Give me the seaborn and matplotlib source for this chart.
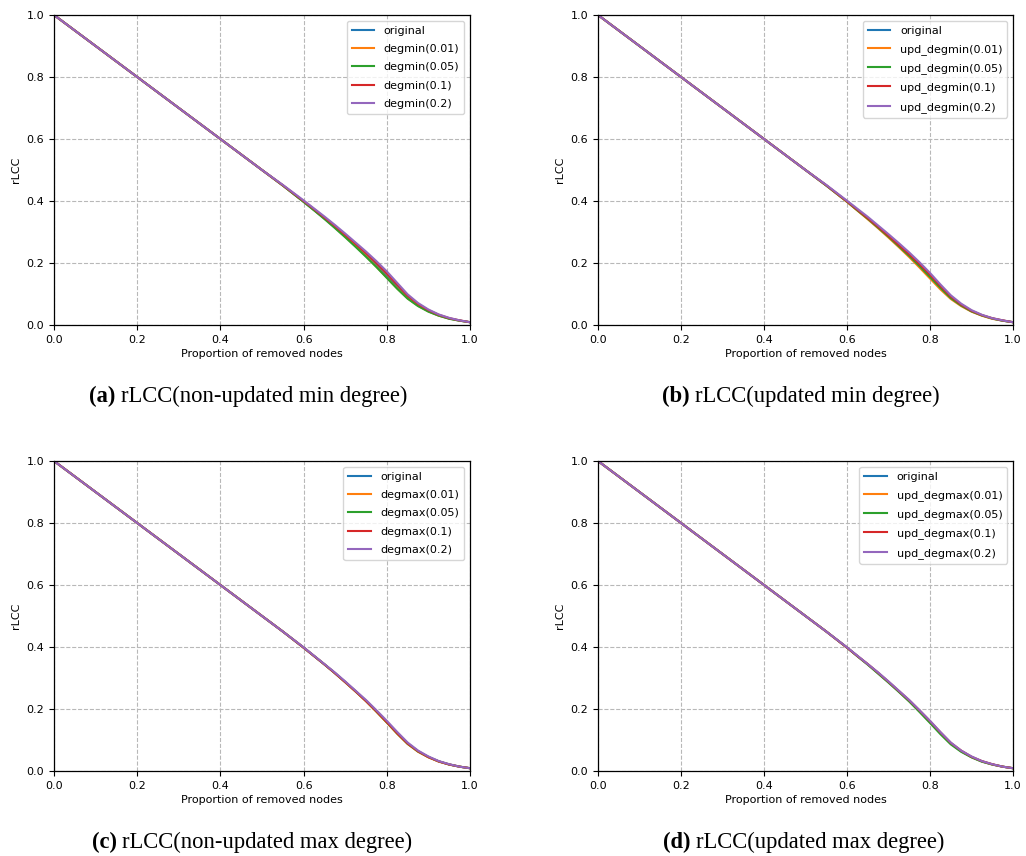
import numpy as np
import pandas as pd
import matplotlib
matplotlib.use("Agg")
import matplotlib.pyplot as plt
import seaborn as sns

# ---------------- data ----------------
x_vals = [0.0, 0.1, 0.2, 0.3, 0.4, 0.5, 0.55, 0.6, 0.625, 0.65, 0.675, 0.7, 0.725,
          0.75, 0.775, 0.8, 0.825, 0.85, 0.875, 0.9, 0.925, 0.95, 0.975, 1.0]

original = [1.0, 0.9, 0.8, 0.7, 0.6, 0.5, 0.45, 0.398, 0.371, 0.344, 0.316, 0.287, 0.257,
            0.226, 0.193, 0.158, 0.122, 0.089, 0.064, 0.045, 0.031, 0.021, 0.014, 0.009]

# panel (a): non-updated min degree
a_001 = [1.0, 0.9, 0.8, 0.7, 0.6, 0.5, 0.45, 0.398, 0.371, 0.344, 0.315, 0.285, 0.254,
         0.222, 0.188, 0.153, 0.118, 0.086, 0.062, 0.044, 0.030, 0.021, 0.014, 0.009]
a_005 = [1.0, 0.9, 0.8, 0.7, 0.6, 0.5, 0.45, 0.397, 0.370, 0.342, 0.313, 0.283, 0.252,
         0.220, 0.187, 0.152, 0.117, 0.085, 0.061, 0.043, 0.030, 0.020, 0.014, 0.009]
a_01 = [1.0, 0.9, 0.8, 0.7, 0.6, 0.5, 0.451, 0.400, 0.374, 0.347, 0.320, 0.291, 0.262,
        0.232, 0.200, 0.166, 0.130, 0.095, 0.068, 0.048, 0.033, 0.022, 0.015, 0.009]
a_02 = [1.0, 0.9, 0.8, 0.7, 0.6, 0.5, 0.452, 0.402, 0.376, 0.350, 0.323, 0.295, 0.266,
        0.237, 0.206, 0.173, 0.136, 0.099, 0.071, 0.050, 0.034, 0.023, 0.015, 0.009]

# panel (b): updated min degree
b_001 = [1.0, 0.9, 0.8, 0.7, 0.6, 0.5, 0.45, 0.397, 0.369, 0.341, 0.312, 0.282, 0.251,
         0.219, 0.185, 0.150, 0.115, 0.084, 0.061, 0.043, 0.030, 0.020, 0.014, 0.009]
b_005 = [1.0, 0.9, 0.8, 0.7, 0.6, 0.5, 0.45, 0.398, 0.370, 0.343, 0.314, 0.285, 0.254,
         0.223, 0.190, 0.155, 0.120, 0.087, 0.063, 0.044, 0.031, 0.021, 0.014, 0.009]
b_01 = [1.0, 0.9, 0.8, 0.7, 0.6, 0.5, 0.451, 0.399, 0.372, 0.345, 0.317, 0.288, 0.258,
        0.228, 0.196, 0.162, 0.126, 0.092, 0.066, 0.046, 0.032, 0.022, 0.015, 0.009]
b_02 = [1.0, 0.9, 0.8, 0.7, 0.6, 0.5, 0.452, 0.401, 0.375, 0.349, 0.321, 0.293, 0.264,
        0.234, 0.202, 0.168, 0.131, 0.096, 0.069, 0.048, 0.033, 0.022, 0.015, 0.009]

# panel (c): non-updated max degree
c_001 = [1.0, 0.9, 0.8, 0.7, 0.6, 0.5, 0.45, 0.398, 0.371, 0.344, 0.316, 0.286, 0.256,
         0.225, 0.191, 0.156, 0.120, 0.087, 0.062, 0.044, 0.030, 0.021, 0.014, 0.009]
c_005 = [1.0, 0.9, 0.8, 0.7, 0.6, 0.5, 0.45, 0.398, 0.371, 0.344, 0.316, 0.287, 0.257,
         0.226, 0.192, 0.157, 0.121, 0.088, 0.063, 0.045, 0.031, 0.021, 0.014, 0.009]
c_01 = [1.0, 0.9, 0.8, 0.7, 0.6, 0.5, 0.45, 0.398, 0.371, 0.344, 0.316, 0.287, 0.257,
        0.226, 0.193, 0.158, 0.122, 0.089, 0.064, 0.045, 0.031, 0.021, 0.014, 0.009]
c_02 = [1.0, 0.9, 0.8, 0.7, 0.6, 0.5, 0.45, 0.399, 0.372, 0.345, 0.318, 0.289, 0.259,
        0.229, 0.196, 0.162, 0.126, 0.092, 0.066, 0.047, 0.032, 0.022, 0.014, 0.009]

# panel (d): updated max degree
d_001 = [1.0, 0.9, 0.8, 0.7, 0.6, 0.5, 0.45, 0.398, 0.371, 0.344, 0.316, 0.287, 0.257,
         0.226, 0.193, 0.158, 0.122, 0.089, 0.064, 0.045, 0.031, 0.021, 0.014, 0.009]
d_005 = [1.0, 0.9, 0.8, 0.7, 0.6, 0.5, 0.45, 0.398, 0.370, 0.343, 0.314, 0.285, 0.255,
         0.224, 0.190, 0.155, 0.119, 0.086, 0.062, 0.044, 0.030, 0.021, 0.014, 0.009]
d_01 = [1.0, 0.9, 0.8, 0.7, 0.6, 0.5, 0.45, 0.398, 0.371, 0.345, 0.317, 0.288, 0.258,
        0.228, 0.195, 0.161, 0.125, 0.091, 0.066, 0.046, 0.032, 0.022, 0.014, 0.009]
d_02 = [1.0, 0.9, 0.8, 0.7, 0.6, 0.5, 0.45, 0.399, 0.372, 0.345, 0.318, 0.289, 0.259,
        0.229, 0.196, 0.162, 0.126, 0.092, 0.066, 0.047, 0.032, 0.022, 0.014, 0.009]

panels = [
    ("degmin", [a_001, a_005, a_01, a_02], "(a)", "rLCC(non-updated min degree)"),
    ("upd_degmin", [b_001, b_005, b_01, b_02], "(b)", "rLCC(updated min degree)"),
    ("degmax", [c_001, c_005, c_01, c_02], "(c)", "rLCC(non-updated max degree)"),
    ("upd_degmax", [d_001, d_005, d_01, d_02], "(d)", "rLCC(updated max degree)"),
]
params = ["0.01", "0.05", "0.1", "0.2"]
colors = ["#1f77b4", "#ff7f0e", "#2ca02c", "#d62728", "#9467bd"]

# ---------------- figure ----------------
plt.rcParams["font.family"] = ["DejaVu Sans"]
fig = plt.figure(figsize=(10.26, 8.56), dpi=100)

W, H = 1026, 856
boxes = [(54, 15, 470, 325), (598, 15, 1013, 325),
         (54, 461, 470, 771), (598, 461, 1013, 771)]
cap_pos = [(248, 396), (801, 396), (252, 842), (804, 842)]

fs = 8
cap_fs = 16.3
renderer = fig.canvas.get_renderer()
for (prefix, series, tag, caption), (l, t, r, b), (cx, cy) in zip(panels, boxes, cap_pos):
    ax = fig.add_axes([l / W, 1 - b / H, (r - l) / W, (b - t) / H])
    names = ["original"] + [f"{prefix}({p})" for p in params]
    ys = [original] + series
    df = pd.concat([pd.DataFrame({"x": x_vals, "y": y, "method": n})
                    for n, y in zip(names, ys)], ignore_index=True)
    sns.lineplot(data=df, x="x", y="y", hue="method", hue_order=names,
                 palette=colors, ax=ax, linewidth=1.5, legend=True)
    handles, labels = ax.get_legend_handles_labels()
    ax.legend(handles, labels, loc="upper right", fontsize=fs,
              handlelength=2.0, borderpad=0.45, labelspacing=0.75,
              handletextpad=0.9, framealpha=0.8)
    ax.set_xlim(0, 1)
    ax.set_ylim(0, 1)
    ax.set_xticks(np.arange(0, 1.01, 0.2))
    ax.set_yticks(np.arange(0, 1.01, 0.2))
    ax.tick_params(labelsize=fs, length=3.5)
    ax.set_xlabel("Proportion of removed nodes", fontsize=fs, labelpad=3)
    ax.set_ylabel("rLCC", fontsize=fs, labelpad=4)
    ax.grid(True, linestyle="--", color="#b8b8b8", linewidth=0.8)
    for s in ax.spines.values():
        s.set_color("black")
        s.set_linewidth(0.9)

    # caption: bold tag + regular text, centred as a whole
    t1 = fig.text(0, 1 - cy / H, tag + " ", ha="left", va="center",
                  fontsize=cap_fs, family="Liberation Serif", fontweight="bold")
    t2 = fig.text(0, 1 - cy / H, caption, ha="left", va="center",
                  fontsize=cap_fs, family="Liberation Serif")
    w1 = t1.get_window_extent(renderer).width
    w2 = t2.get_window_extent(renderer).width
    start = cx - (w1 + w2) / 2
    t1.set_x(start / W)
    t2.set_x((start + w1) / W)

fig.savefig("out.png", dpi=100)
